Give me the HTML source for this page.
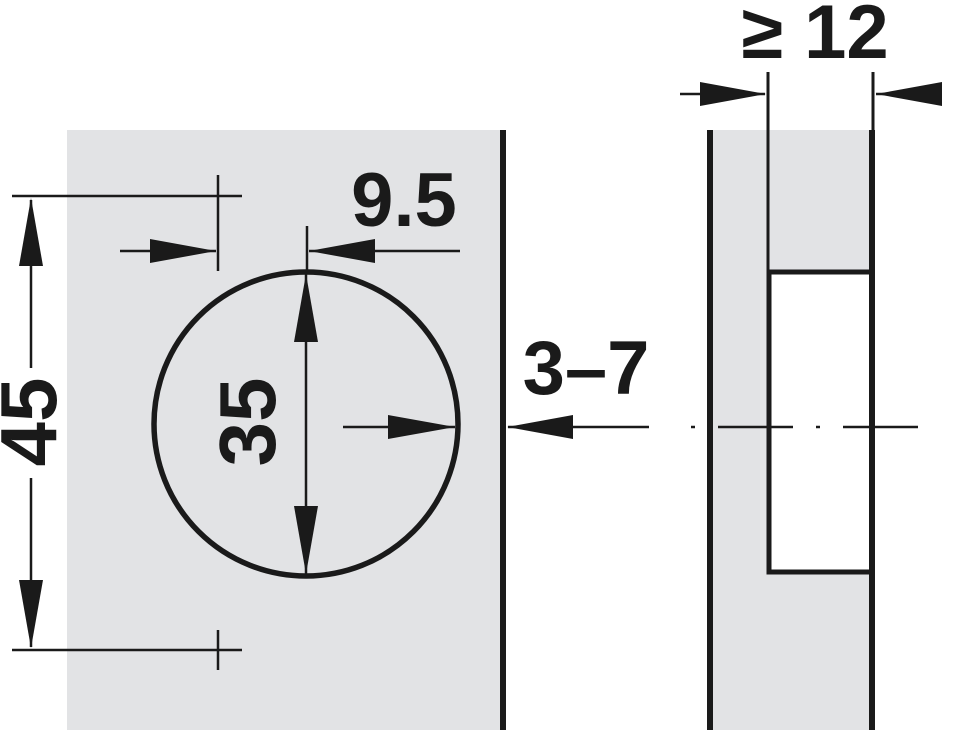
<!DOCTYPE html>
<html><head><meta charset="utf-8"><style>
html,body{margin:0;padding:0;background:#fff;}
svg{display:block;}
text{font-family:"Liberation Sans",Arial,sans-serif;font-weight:bold;fill:#1a1a1a;}
</style></head><body>
<svg width="962" height="730" viewBox="0 0 962 730" xmlns="http://www.w3.org/2000/svg">
<g fill="#e2e3e5">
<rect x="67" y="130" width="433" height="600"/>
<rect x="708" y="130" width="164" height="600"/>
</g>
<rect x="768" y="272" width="102" height="302" fill="#fff"/>
<g stroke="#1a1a1a" fill="none">
<line x1="503" y1="130" x2="503" y2="730" stroke-width="6"/>
<line x1="710" y1="130" x2="710" y2="730" stroke-width="6"/>
<line x1="872" y1="130" x2="872" y2="730" stroke-width="6"/>
<polyline points="870,272 769,272 769,572 870,572" stroke-width="5"/>
<line x1="768" y1="72" x2="768" y2="272" stroke-width="3"/>
<line x1="873" y1="72" x2="873" y2="130" stroke-width="3"/>
<circle cx="306" cy="424" r="152" stroke-width="5.5"/>
<g stroke-width="2.5">
<line x1="12" y1="196" x2="242" y2="196"/>
<line x1="12" y1="650" x2="242" y2="650"/>
<line x1="218" y1="175" x2="218" y2="271"/>
<line x1="218" y1="630" x2="218" y2="670"/>
<line x1="31" y1="200" x2="31" y2="368"/>
<line x1="31" y1="478" x2="31" y2="647"/>
<line x1="120" y1="251" x2="216" y2="251"/>
<line x1="307" y1="226" x2="307" y2="272"/>
<line x1="309" y1="251" x2="460" y2="251"/>
<line x1="306" y1="274" x2="306" y2="574"/>
<line x1="343" y1="427" x2="455" y2="427"/>
<line x1="508" y1="427" x2="649" y2="427"/>
<line x1="680" y1="94" x2="765" y2="94"/>
<line x1="876" y1="94" x2="940" y2="94"/>
<line x1="718" y1="427" x2="793" y2="427"/>
<line x1="843" y1="427" x2="918" y2="427"/>
<line x1="691" y1="427" x2="695" y2="427"/>
<line x1="816" y1="427" x2="820" y2="427"/>
</g>
</g>
<g fill="#1a1a1a">
<polygon points="31,198 19,266 43,266"/>
<polygon points="31,648 19,580 43,580"/>
<polygon points="216,251 150,239 150,263"/>
<polygon points="309,251 375,239 375,263"/>
<polygon points="306,274 294,342 318,342"/>
<polygon points="306,574 294,506 318,506"/>
<polygon points="455,427 388,415 388,439"/>
<polygon points="507,427 573,415 573,439"/>
<polygon points="766,94 700,82 700,106"/>
<polygon points="876,94 942,82 942,106"/>
</g>
<text x="404" y="226" font-size="76" text-anchor="middle">9.5</text>
<text x="586" y="394" font-size="76" text-anchor="middle">3–7</text>
<text x="815" y="58" font-size="76" text-anchor="middle">≥ 12</text>
<text transform="translate(56,422) rotate(-90)" font-size="80" text-anchor="middle">45</text>
<text transform="translate(275,422) rotate(-90)" font-size="80" text-anchor="middle">35</text>
</svg>
</body></html>
